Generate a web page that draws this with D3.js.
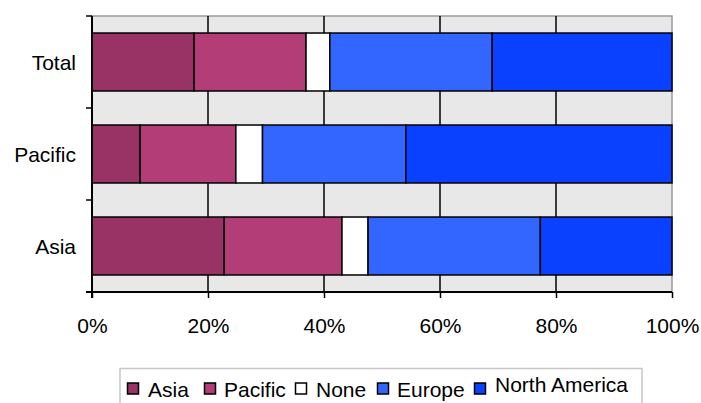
<!DOCTYPE html>
<html>
<head>
<meta charset="utf-8">
<script src="https://cdn.jsdelivr.net/npm/d3@7"></script>
<style>
  html, body { margin: 0; padding: 0; background: #fff; }
  svg { display: block; font-family: "Liberation Sans", Arial, sans-serif; }
</style>
</head>
<body>
<svg id="chart" width="701" height="403"></svg>
<script>
// Regions, listed top to bottom
const categories = ["Total", "Pacific", "Asia"];
// Share of each destination (percent) per region
const seriesNames = ["Asia", "Pacific", "None", "Europe", "North America"];
const asiaValues     = [17.6,  8.3, 22.8];
const pacificValues  = [19.3, 16.5, 20.3];
const noneValues     = [ 4.1,  4.6,  4.5];
const europeValues   = [28.0, 24.7, 29.7];
const northAmValues  = [31.0, 45.9, 22.7];
const seriesColors = ["#993366", "#b33d77", "#ffffff", "#3366ff", "#0a40ff"];
const tickValues = [0, 20, 40, 60, 80, 100];
const tickLabels = ["0%", "20%", "40%", "60%", "80%", "100%"];

const seriesValues = [asiaValues, pacificValues, noneValues, europeValues, northAmValues];
const rows = categories.map((c, i) => {
  const r = { category: c };
  seriesNames.forEach((s, k) => { r[s] = seriesValues[k][i]; });
  return r;
});
const stacked = d3.stack().keys(seriesNames).offset(d3.stackOffsetExpand)(rows);

const svg = d3.select("#chart");
const plotLeft = 92, plotRight = 672, plotTop = 16, plotBottom = 292;
const fontSize = 21;

const x = d3.scaleLinear().domain([0, 1]).range([plotLeft, plotRight]);
const y = d3.scaleBand().domain(categories).range([plotTop, plotBottom]).paddingInner(0.37).paddingOuter(0.185);
const yb = d3.scaleBand().domain(categories).range([plotTop, plotBottom]);

// plot area background
svg.append("rect")
  .attr("x", plotLeft).attr("y", plotTop)
  .attr("width", plotRight - plotLeft).attr("height", plotBottom - plotTop)
  .attr("fill", "#e8e8e8")
  .attr("stroke", "#9a9a9a").attr("stroke-width", 1.5);

// vertical gridlines
svg.append("g").selectAll("line")
  .data(tickValues.slice(1, -1))
  .join("line")
  .attr("x1", d => x(d / 100)).attr("x2", d => x(d / 100))
  .attr("y1", plotTop).attr("y2", plotBottom)
  .attr("stroke", "#000").attr("stroke-width", 1.5);

// stacked bars
svg.append("g").selectAll("g")
  .data(stacked)
  .join("g")
  .attr("fill", (d, i) => seriesColors[i])
  .selectAll("rect")
  .data(d => d)
  .join("rect")
  .attr("x", d => x(d[0]))
  .attr("width", d => x(d[1]) - x(d[0]))
  .attr("y", d => y(d.data.category))
  .attr("height", y.bandwidth())
  .attr("stroke", "#000").attr("stroke-width", 1.5);

// x axis
const xAxis = svg.append("g")
  .attr("transform", `translate(0,${plotBottom})`)
  .call(d3.axisBottom(x).tickValues(tickValues.map(v => v / 100))
    .tickFormat((d, i) => tickLabels[i]).tickSize(6).tickPadding(20).tickSizeOuter(0));
xAxis.select(".domain").attr("stroke", "#000").attr("stroke-width", 2).attr("d", `M${plotLeft - 6},0H${plotRight}`);
xAxis.selectAll(".tick line").attr("stroke", "#000").attr("stroke-width", 1.5);
xAxis.selectAll("text").attr("font-size", fontSize).attr("fill", "#000")
  .attr("font-family", "'Liberation Sans', Arial, sans-serif");

// y axis: category boundaries carry tick marks, labels sit at band centres
const yAxis = svg.append("g").attr("transform", `translate(${plotLeft},0)`);
yAxis.append("line")
  .attr("x1", 0).attr("x2", 0).attr("y1", plotTop).attr("y2", plotBottom + 6)
  .attr("stroke", "#000").attr("stroke-width", 2);
const bounds = categories.map(c => yb(c)).concat([plotBottom]);
yAxis.selectAll("line.tk")
  .data(bounds)
  .join("line").attr("class", "tk")
  .attr("x1", -6).attr("x2", 0)
  .attr("y1", d => d).attr("y2", d => d)
  .attr("stroke", "#000").attr("stroke-width", 1.5);
yAxis.selectAll("text")
  .data(categories)
  .join("text")
  .attr("x", -16)
  .attr("y", d => yb(d) + yb.bandwidth() / 2 + 8)
  .attr("text-anchor", "end")
  .attr("font-size", fontSize)
  .text(d => d);

// legend
const legend = svg.append("g");
legend.append("rect")
  .attr("x", 120).attr("y", 368.5)
  .attr("width", 522).attr("height", 40)
  .attr("fill", "#fff").attr("stroke", "#c8c8c8").attr("stroke-width", 1.5);
const swatchX = [127.5, 204.5, 295.5, 377.5, 474.5];
const labelX = [148, 224, 316, 397, 495];
const labelY = [397, 397, 397, 397, 392];
const items = legend.selectAll("g.item")
  .data(seriesNames)
  .join("g").attr("class", "item");
items.append("rect")
  .attr("x", (d, i) => swatchX[i]).attr("y", 383).attr("width", 11).attr("height", 11)
  .attr("fill", (d, i) => seriesColors[i])
  .attr("stroke", "#000").attr("stroke-width", 1.5);
items.append("text")
  .attr("x", (d, i) => labelX[i]).attr("y", (d, i) => labelY[i])
  .attr("font-size", fontSize)
  .text(d => d);
</script>
</body>
</html>
